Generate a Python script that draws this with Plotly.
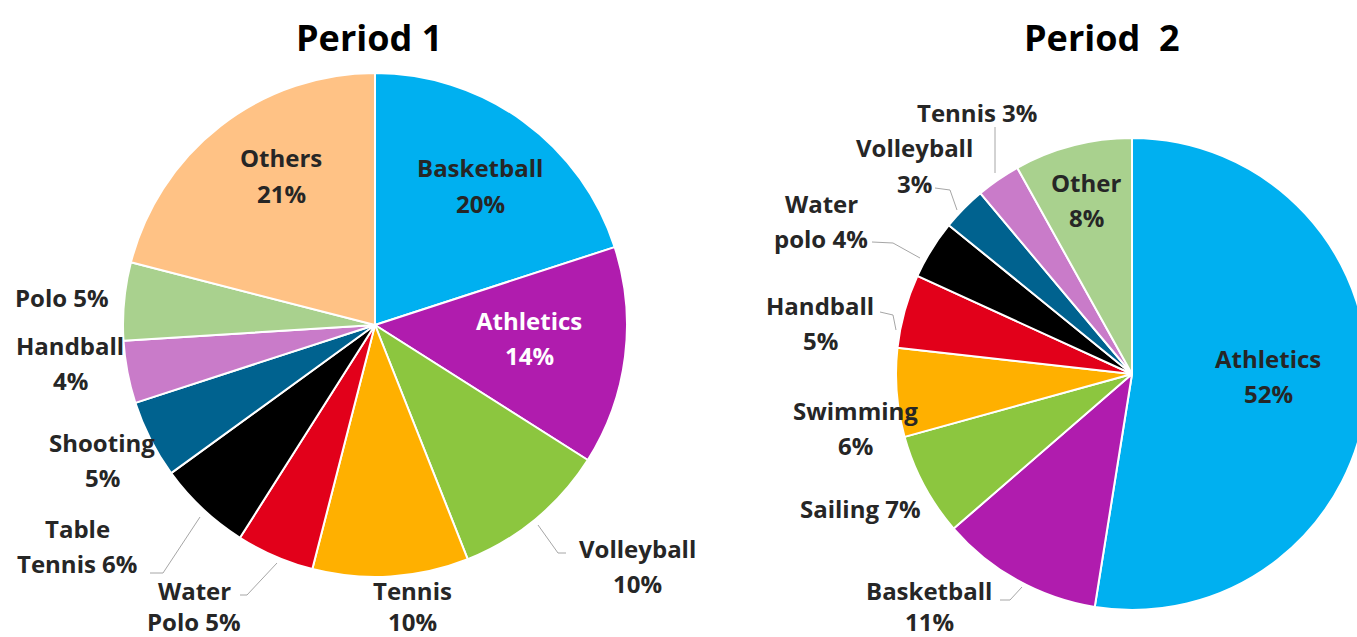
import plotly.graph_objects as go

# chart data
P1_LABELS = ["Basketball", "Athletics", "Volleyball", "Tennis", "Water Polo",
             "Table Tennis", "Shooting", "Handball", "Polo", "Others"]
P1_VALUES = [20, 14, 10, 10, 5, 6, 5, 4, 5, 21]

P2_LABELS = ["Athletics", "Basketball", "Sailing", "Swimming", "Handball",
             "Water polo", "Volleyball", "Tennis", "Other"]
P2_VALUES = [52, 11, 7, 6, 5, 4, 3, 3, 8]

TITLES = ["Period 1", "Period  2"]

# colours per sport
BLUE = "#00b0f0"
PURPLE = "#b01cae"
GREEN = "#8cc63f"
AMBER = "#ffb000"
RED = "#e2001a"
BLACK = "#000000"
TEAL = "#00628f"
PINK = "#c97bc9"
LIGHT_GREEN = "#a9d18e"
PEACH = "#ffc285"

P1_COLORS = [BLUE, PURPLE, GREEN, AMBER, RED, BLACK, TEAL, PINK, LIGHT_GREEN, PEACH]
P2_COLORS = [BLUE, PURPLE, GREEN, AMBER, RED, BLACK, TEAL, PINK, LIGHT_GREEN]

# page geometry (pixels); the page is wider than the window so the right pie is clipped
FIG_W: int = 1370
FIG_H: int = 637
LABEL_FONT = "Open Sans, DejaVu Sans, sans-serif"
LABEL_SIZE: int = 24
LABEL_COLOR = "#262626"
LINE_GAP: float = 35
BOTTOM_GAP: float = 31  # bottom labels squeezed so they stay on the page
LEADER_COLOR = "#a6a6a6"

# pie centres / radii in page pixels
P1_CENTER, P1_RADIUS = (375, 325), 252
P2_CENTER, P2_RADIUS = (1132, 374), 236

# label placement: centre x, first line y, how to split, text colour, line gap
P1_PLACE = {
    "Basketball": (480, 168, "br", LABEL_COLOR, LINE_GAP),
    "Athletics": (529, 320, "br", "#ffffff", LINE_GAP),
    "Volleyball": (637, 548, "br", LABEL_COLOR, LINE_GAP),
    "Tennis": (412, 590, "br", LABEL_COLOR, BOTTOM_GAP),
    "Water Polo": (194, 590, "wrap", LABEL_COLOR, BOTTOM_GAP),
    "Table Tennis": (77, 528, "wrap", LABEL_COLOR, LINE_GAP),
    "Shooting": (102, 442, "br", LABEL_COLOR, LINE_GAP),
    "Handball": (70, 345, "br", LABEL_COLOR, LINE_GAP),
    "Polo": (62, 297, "inline", LABEL_COLOR, LINE_GAP),
    "Others": (281, 158, "br", LABEL_COLOR, LINE_GAP),
}
P2_PLACE = {
    "Athletics": (1268, 358, "br", LABEL_COLOR, LINE_GAP),
    "Basketball": (929, 590, "br", LABEL_COLOR, BOTTOM_GAP),
    "Sailing": (860, 508, "inline", LABEL_COLOR, LINE_GAP),
    "Swimming": (855, 410, "br", LABEL_COLOR, LINE_GAP),
    "Handball": (820, 305, "br", LABEL_COLOR, LINE_GAP),
    "Water polo": (821, 203, "wrap", LABEL_COLOR, LINE_GAP),
    "Volleyball": (914, 148, "br", LABEL_COLOR, LINE_GAP),
    "Tennis": (977, 112, "inline", LABEL_COLOR, LINE_GAP),
    "Other": (1086, 182, "br", LABEL_COLOR, LINE_GAP),
}

# leader lines (page pixels)
LEADERS = [
    [(538, 525), (558, 553), (566, 553)],
    [(277, 563), (247, 595), (240, 595)],
    [(200, 517), (163, 573), (150, 573)],
    [(995, 127), (995, 173)],
    [(935, 188), (950, 190), (957, 210)],
    [(872, 242), (893, 243), (920, 258)],
    [(880, 312), (893, 315), (896, 330)],
    [(1000, 600), (1010, 600), (1022, 587)],
]


def px(x: float) -> float:
    return x / FIG_W


def py(y: float) -> float:
    return 1 - y / FIG_H


def pie_domain(center: tuple, radius: float) -> dict:
    cx, cy = center
    return dict(x=[px(cx - radius), px(cx + radius)],
                y=[py(cy + radius), py(cy - radius)])


def label_lines(name: str, value: int, mode: str) -> list[str]:
    pct = f"{value}%"
    if mode == "inline":
        return [f"{name} {pct}"]
    if mode == "wrap":
        first, rest = name.split(" ", 1)
        return [first, f"{rest} {pct}"]
    return [name, pct]


def build_labels(labels: list, values: list, place: dict) -> list[dict]:
    annotations = []
    for name, value in zip(labels, values):
        x, y, mode, color, gap = place[name]
        for i, line in enumerate(label_lines(name, value, mode)):
            annotations.append(dict(
                x=px(x), y=py(y + i * gap), xref="paper", yref="paper",
                text=line, showarrow=False, xanchor="center", yanchor="middle",
                font=dict(family=LABEL_FONT, size=LABEL_SIZE, color=color, weight="bold"),
            ))
    return annotations


def build_pie(labels: list, values: list, colors: list, center: tuple, radius: float) -> go.Pie:
    return go.Pie(
        labels=labels,
        values=values,
        sort=False,
        direction="clockwise",
        rotation=0,
        textinfo="none",
        hoverinfo="label+percent",
        marker=dict(colors=colors, line=dict(color="#ffffff", width=2)),
        domain=pie_domain(center, radius),
        showlegend=False,
    )


fig = go.Figure()
fig.add_trace(build_pie(P1_LABELS, P1_VALUES, P1_COLORS, P1_CENTER, P1_RADIUS))
fig.add_trace(build_pie(P2_LABELS, P2_VALUES, P2_COLORS, P2_CENTER, P2_RADIUS))

annotations = build_labels(P1_LABELS, P1_VALUES, P1_PLACE) + build_labels(P2_LABELS, P2_VALUES, P2_PLACE)

# titles
for title, x in zip(TITLES, [369, 1102]):
    annotations.append(dict(
        x=px(x), y=py(37), xref="paper", yref="paper", text=title, showarrow=False,
        xanchor="center", yanchor="middle",
        font=dict(family="Open Sans, sans-serif", size=36, color="#000000", weight="bold"),
    ))

shapes = []
for pts in LEADERS:
    path = "M " + " L ".join(f"{px(x)},{py(y)}" for x, y in pts)
    shapes.append(dict(type="path", path=path, xref="paper", yref="paper",
                       line=dict(color=LEADER_COLOR, width=1)))

fig.update_layout(
    width=FIG_W,
    height=FIG_H,
    autosize=False,
    margin=dict(l=0, r=0, t=0, b=0),
    paper_bgcolor="#ffffff",
    plot_bgcolor="#ffffff",
    annotations=annotations,
    shapes=shapes,
)

fig.write_html(
    "out.html",
    config={"displayModeBar": False},
    post_script="document.body.style.margin='0';document.body.style.overflow='hidden';",
)
